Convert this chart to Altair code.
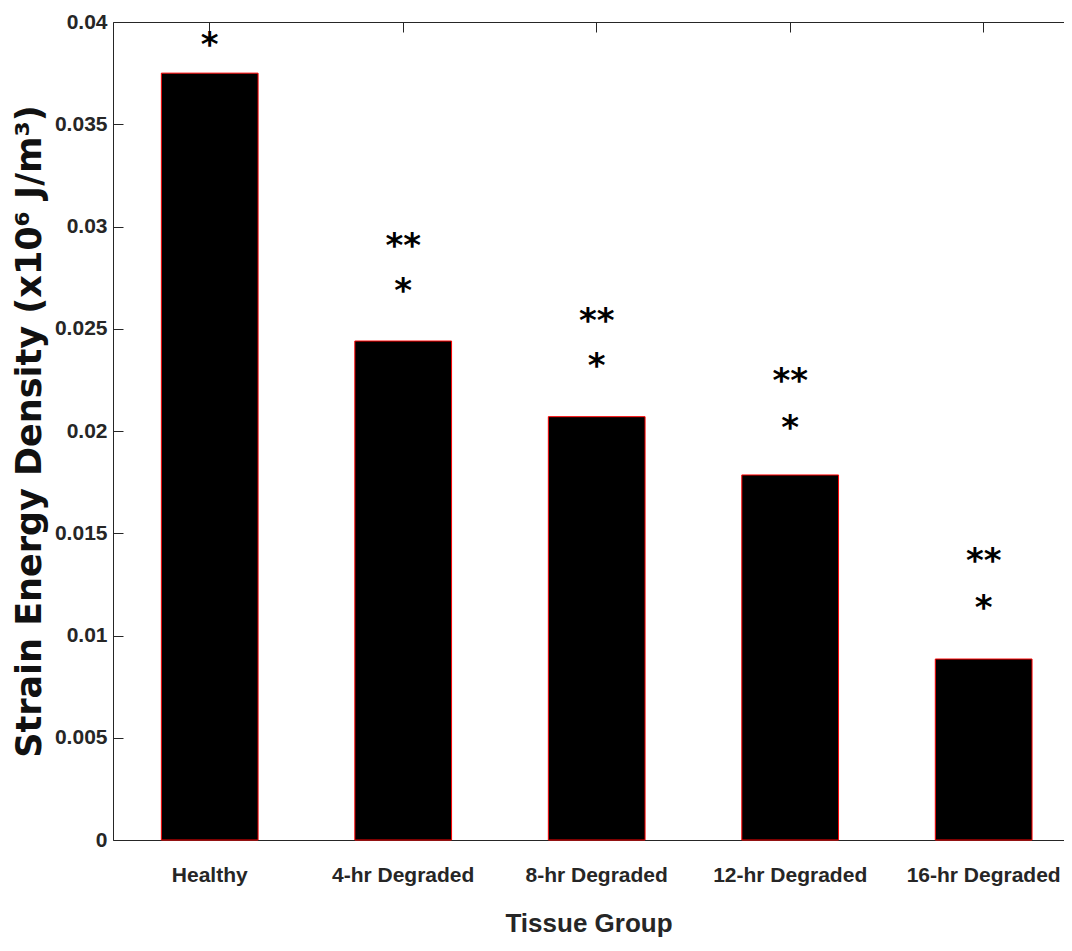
import altair as alt
import pandas as pd

groups = ["Healthy", "4-hr Degraded", "8-hr Degraded", "12-hr Degraded", "16-hr Degraded"]
values = [0.0375, 0.0244, 0.0207, 0.01785, 0.00885]
# vertical positions (data units) of the significance markers
single_star_y = [0.0391, 0.0271, 0.0234, 0.0204, 0.0116]
double_star_y = [None, 0.0293, 0.0256, 0.0227, 0.0139]
y_ticks = [0, 0.005, 0.01, 0.015, 0.02, 0.025, 0.03, 0.035, 0.04]

df = pd.DataFrame({"group": groups, "value": values})
df_s1 = pd.DataFrame({"group": groups, "y": single_star_y})
df_s2 = pd.DataFrame({"group": groups, "y": double_star_y}).dropna()

LABEL_FONT = "Liberation Sans Narrow, Arial Narrow, Liberation Sans"
AX_COLOR = "#262626"

# the right end of the axes is cut off in the reference picture
xscale = alt.Scale(domain=groups, paddingInner=0.5, paddingOuter=0.2075, align=0.602)
yscale = alt.Scale(domain=[0, 0.04], nice=False, zero=True)

left_axis = alt.Axis(
    values=y_ticks, format=".3~f", grid=False, domain=False,
    offset=-10, tickSize=10, tickColor=AX_COLOR, labelPadding=6,
    labelFont=LABEL_FONT, labelFontSize=21, labelFontWeight="bold", labelColor=AX_COLOR,
    title="Strain Energy Density (x10\u2076 J/m\u00b3)",
    titleFont="DejaVu Sans", titleFontSize=35, titleFontWeight="bold", titleColor="#111111",
    titlePadding=7,
)
bottom_axis = alt.Axis(
    ticks=False, domain=True, domainColor=AX_COLOR, grid=False, labelAngle=0, labelPadding=24,
    labelFont=LABEL_FONT, labelFontSize=21, labelFontWeight="bold", labelColor=AX_COLOR,
    title="Tissue Group", titleFont=LABEL_FONT, titleFontSize=26, titleFontWeight="bold",
    titleColor=AX_COLOR, titlePadding=25,
)
top_tick_axis = alt.Axis(
    orient="top", labels=False, title=None, domain=False, grid=False,
    offset=-10, tickSize=10, tickColor=AX_COLOR,
)
left_line_axis = alt.Axis(
    orient="left", labels=False, ticks=False, title=None, grid=False,
    domain=True, domainColor=AX_COLOR,
)
top_line_axis = alt.Axis(
    orient="top", labels=False, ticks=False, title=None, grid=False,
    domain=True, domainColor=AX_COLOR,
)

bars = alt.Chart(df).mark_bar(color="black", stroke="#ff0000", strokeWidth=1).encode(
    x=alt.X("group:N", sort=groups, scale=xscale, axis=bottom_axis),
    y=alt.Y("value:Q", scale=yscale, axis=left_axis),
)
frame1 = alt.Chart(df).mark_bar(opacity=0).encode(
    x=alt.X("group:N", sort=groups, scale=xscale, axis=top_tick_axis),
    y=alt.Y("value:Q", scale=yscale, axis=left_line_axis),
)
frame2 = alt.Chart(df).mark_bar(opacity=0).encode(
    x=alt.X("group:N", sort=groups, scale=xscale, axis=top_line_axis),
    y=alt.Y("value:Q", scale=yscale, axis=None),
)
star_style = dict(font="DejaVu Sans", fontSize=34, fontWeight="bold", color="black",
                  baseline="alphabetic", align="center", dy=16)
stars1 = alt.Chart(df_s1).mark_text(**star_style).encode(
    x=alt.X("group:N", sort=groups, scale=xscale, axis=None),
    y=alt.Y("y:Q", scale=yscale, axis=None),
    text=alt.value("*"),
)
stars2 = alt.Chart(df_s2).mark_text(**star_style).encode(
    x=alt.X("group:N", sort=groups, scale=xscale, axis=None),
    y=alt.Y("y:Q", scale=yscale, axis=None),
    text=alt.value("**"),
)

chart = alt.layer(bars, frame1, frame2, stars1, stars2).resolve_axis(
    x="independent", y="independent"
).properties(
    width=951, height=818,
    autosize=alt.AutoSizeParams(type="none"),
    padding={"left": 105, "top": 14, "right": 0, "bottom": 111},
).configure_view(stroke=None).configure(background="white")

chart.save("out.html", embed_options={"renderer": "svg", "actions": False})
